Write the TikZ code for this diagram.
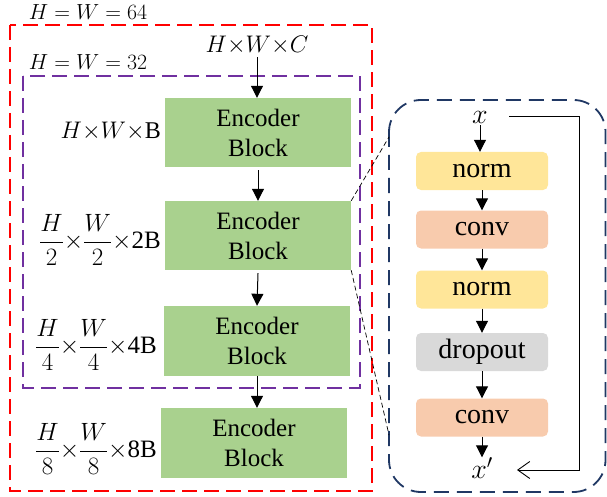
\RequirePackage{fix-cm}
\documentclass[tikz,border=0pt]{standalone}
\usepackage{fontspec}
\setmainfont{Liberation Serif}
\usetikzlibrary{arrows.meta}
\definecolor{encgreen}{HTML}{A9D18E}
\definecolor{normyel}{HTML}{FFE699}
\definecolor{convsal}{HTML}{F8CBAD}
\definecolor{dropgray}{HTML}{D9D9D9}
\definecolor{boxpurple}{HTML}{7030A0}
\definecolor{boxnavy}{HTML}{203864}
\newcommand{\tx}{\mathord{\times}}
\tikzset{
  encbox/.style={fill=encgreen, minimum width=186pt, minimum height=69pt, inner sep=0pt, align=center, font=\fontsize{25}{30}\selectfont},
  inbox/.style={rounded corners=5pt, minimum width=132pt, minimum height=38pt, inner sep=0pt, font=\fontsize{28}{30}\selectfont},
  mlab/.style={inner sep=0pt, font=\fontsize{24}{26}\selectfont},
  flow/.style={-{Triangle[length=12pt,width=12pt]}, line width=1pt},
  reddash/.style={draw=red, line width=1.8pt, dash pattern=on 15pt off 7pt},
  purpdash/.style={draw=boxpurple, line width=1.8pt, dash pattern=on 15pt off 7pt},
  navydash/.style={draw=boxnavy, line width=1.8pt, dash pattern=on 15pt off 8pt, rounded corners=32pt},
  zoomline/.style={line width=0.7pt, dash pattern=on 5pt off 3pt},
}
\begin{document}
\begin{tikzpicture}[x=1pt,y=-1pt]
\useasboundingbox (0,0) rectangle (607,497);
% outer boxes
\draw[reddash] (10,25) rectangle (372,491);
\draw[purpdash] (23,76) rectangle (360,388);
\node[mlab, font=\fontsize{26}{28}\selectfont] (lab64) at (88,12) {\scalebox{0.84}{$H=W=64$}};
\node[mlab, font=\fontsize{26}{28}\selectfont] (lab32) at (88,62) {\scalebox{0.84}{$H=W=32$}};
% encoder column
\node[mlab] (in) at (257,45) {$H\tx W\tx C$};
\node[encbox] (e1) at (258,132.5) {Encoder\\Block};
\node[encbox] (e2) at (258,235.5) {Encoder\\Block};
\node[encbox, minimum height=70pt] (e3) at (257,341) {Encoder\\Block};
\node[encbox, minimum height=70pt] (e4) at (254,443) {Encoder\\Block};
\draw[flow] (in.south) ++(0,3) -- (e1.north -| in.south);
\draw[flow] (e1.south) ++(0,3) -- (e2.north);
\draw[flow] (e2.south) ++(0,3) -- (e3.north);
\draw[flow] (e3.south) -- (e3.south |- e4.north);
% size labels
\node[mlab, anchor=east] (s1) at (161,131) {$H\tx W\tx$B};
\node[mlab, font=\fontsize{25}{27}\selectfont, anchor=east] (s2) at (161,240) {$\displaystyle\frac{H}{2}\tx\frac{W}{2}\tx$2B};
\node[mlab, font=\fontsize{25}{27}\selectfont, anchor=east] (s3) at (157,345) {$\displaystyle\frac{H}{4}\tx\frac{W}{4}\tx$4B};
\node[mlab, font=\fontsize{25}{27}\selectfont, anchor=east] (s4) at (157,449) {$\displaystyle\frac{H}{8}\tx\frac{W}{8}\tx$8B};
% detail box
\draw[navydash] (389,100) rectangle (605.5,492);
\coordinate (zt) at (389,137);
\coordinate (zb) at (389,435);
\draw[zoomline] (e2.north east) -- (zt);
\draw[zoomline] (e2.south east) -- (zb);
\node[inner sep=0pt, font=\fontsize{28}{30}\selectfont] (xin) at (480,117) {$x$};
\node[inbox, fill=normyel] (n1) at (482,171) {norm};
\node[inbox, fill=convsal] (c1) at (482,229.5) {conv};
\node[inbox, fill=normyel] (n2) at (482,289.5) {norm};
\node[inbox, fill=dropgray] (d1) at (482,352) {dropout};
\node[inbox, fill=convsal] (c2) at (482,417.5) {conv};
\node[inner sep=0pt, font=\fontsize{28}{30}\selectfont] (xout) at (482,468) {$x'$};
\draw[flow] (xin.south) ++(0,2) -- (n1.north -| xin.south);
\draw[flow] (n1.south) -- (c1.north);
\draw[flow] (c1.south) -- (n2.north);
\draw[flow] (n2.south) -- (d1.north);
\draw[flow] (d1.south) -- (c2.north);
\draw[flow] (c2.south) -- (c2.south |- xout.north);
% skip connection
\coordinate (sk0) at (509,116);
\coordinate (sk1) at (579,116);
\coordinate (sk2) at (517,470);
\draw[line width=0.9pt, -{Straight Barb[length=12pt,width=17pt,line width=0.9pt]}] (sk0) -- (sk1) -- (sk1 |- sk2) -- (sk2);
\end{tikzpicture}
\end{document}
